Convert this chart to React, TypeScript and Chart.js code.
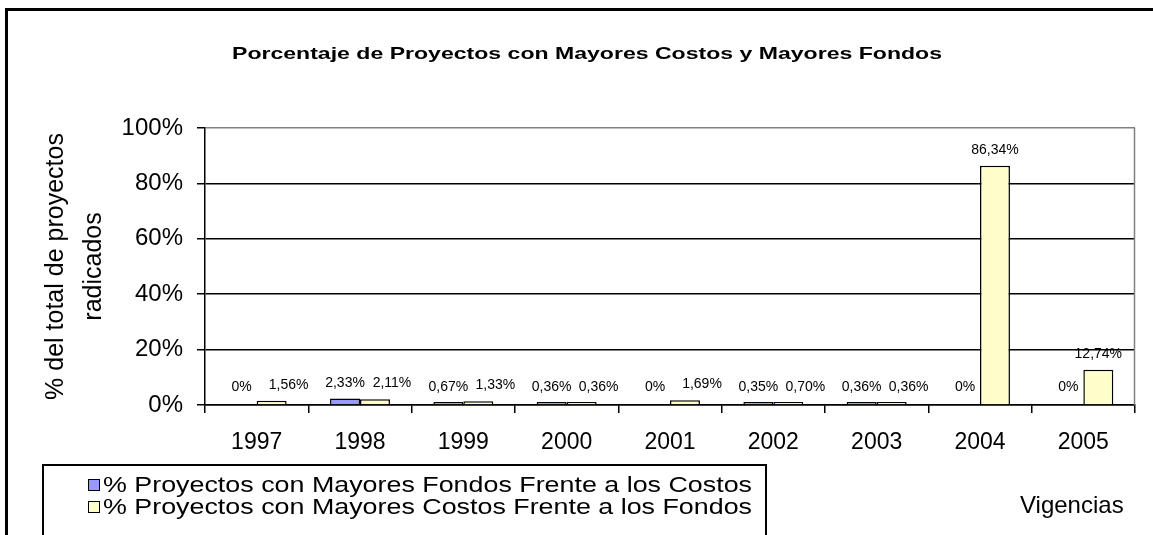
import React, { useEffect, useRef } from 'react';
import { Chart, registerables } from 'chart.js';

Chart.register(...registerables);

const categories = ['1997', '1998', '1999', '2000', '2001', '2002', '2003', '2004', '2005'];
const fondosValues = [0, 2.33, 0.67, 0.36, 0, 0.35, 0.36, 0, 0];
const costosValues = [1.56, 2.11, 1.33, 0.36, 1.69, 0.7, 0.36, 86.34, 12.74];
const yTickValues = [0, 20, 40, 60, 80, 100];
const seriesNames = [
  '% Proyectos con Mayores Fondos Frente a los Costos',
  '% Proyectos con Mayores Costos Frente a los Fondos',
];
const seriesColors = ['#9999FF', '#FFFFCC'];
const chartTitle = 'Porcentaje de Proyectos con Mayores Costos y Mayores Fondos';
const yAxisTitle = ['% del total de proyectos', 'radicados'];
const xAxisTitle = 'Vigencias';

const seriesValues = [fondosValues, costosValues];

const FONT = '"Liberation Sans", Arial, Helvetica, sans-serif';

function fmt(v: number): string {
  if (v === 0) return '0%';
  return v.toFixed(2).replace('.', ',') + '%';
}

const decorPlugin = {
  id: 'decor',
  beforeDraw(chart: any) {
    const ctx = chart.ctx;
    ctx.save();
    ctx.fillStyle = '#ffffff';
    ctx.fillRect(0, 0, chart.width, chart.height);
    // outer frame (left and top)
    ctx.fillStyle = '#000';
    ctx.fillRect(5, 8, chart.width - 5, 3);
    ctx.fillRect(5, 8, 3, chart.height - 8);
    ctx.restore();
  },
  afterDatasetsDraw(chart: any) {
    const ctx = chart.ctx;
    const area = chart.chartArea;
    const yScale = chart.scales.y;
    ctx.save();
    // gray right edge of plot area
    ctx.strokeStyle = '#808080';
    ctx.lineWidth = 1.5;
    ctx.beginPath();
    ctx.moveTo(area.right - 0.5, area.top);
    ctx.lineTo(area.right - 0.5, area.bottom);
    ctx.stroke();

    // data labels
    ctx.font = `14px ${FONT}`;
    ctx.fillStyle = '#000';
    ctx.textAlign = 'center';
    ctx.textBaseline = 'alphabetic';
    seriesValues.forEach((vals, di) => {
      const meta = chart.getDatasetMeta(di);
      meta.data.forEach((bar: any, i: number) => {
        const v = vals[i];
        const dx = di === 1 && v < 5 ? 17 : 0;
        const top = Math.min(yScale.getPixelForValue(v), yScale.getPixelForValue(0) - 2);
        ctx.fillText(fmt(v), bar.x + dx, top - 12);
      });
    });
    ctx.restore();
  },
  afterDraw(chart: any) {
    const ctx = chart.ctx;
    ctx.save();
    ctx.fillStyle = '#000';
    ctx.textAlign = 'left';
    ctx.textBaseline = 'alphabetic';

    // title (wide face)
    ctx.font = `bold 16.5px ${FONT}`;
    const tNat = ctx.measureText(chartTitle).width;
    ctx.save();
    ctx.translate(232, 59);
    ctx.scale(710 / tNat, 1);
    ctx.fillText(chartTitle, 0, 0);
    ctx.restore();

    // legend box
    ctx.strokeStyle = '#000';
    ctx.lineWidth = 2;
    ctx.strokeRect(43, 465, 723, 90);
    ctx.font = `22px ${FONT}`;
    const lNat = ctx.measureText(seriesNames[0]).width;
    const lScale = 649 / lNat;
    const baselines = [492, 514];
    seriesNames.forEach((name, i) => {
      const b = baselines[i];
      ctx.fillStyle = seriesColors[i];
      ctx.fillRect(88, b - 13, 12, 12);
      ctx.strokeStyle = '#000';
      ctx.lineWidth = 1;
      ctx.strokeRect(88.5, b - 12.5, 11, 11);
      ctx.fillStyle = '#000';
      ctx.save();
      ctx.translate(103, b);
      ctx.scale(lScale, 1);
      ctx.fillText(name, 0, 0);
      ctx.restore();
    });

    // x axis title
    ctx.font = `24px ${FONT}`;
    ctx.fillText(xAxisTitle, 1020, 513);
    ctx.restore();
  },
};

export default function App() {
  const canvasRef = useRef<HTMLCanvasElement | null>(null);

  useEffect(() => {
    if (!canvasRef.current) return;
    const chart = new Chart(canvasRef.current, {
      type: 'bar',
      data: {
        labels: categories,
        datasets: seriesValues.map((vals, i) => ({
          label: seriesNames[i],
          data: vals.map((v) => (v === 0 ? null : v)),
          backgroundColor: seriesColors[i],
          borderColor: '#000',
          borderWidth: 1.5,
          minBarLength: 3,
          categoryPercentage: 0.58,
          barPercentage: 1,
        })),
      },
      options: {
        responsive: false,
        animation: false,
        layout: { padding: { top: 128, left: 0, right: 18, bottom: 0 } },
        plugins: {
          legend: { display: false },
          title: { display: false },
          tooltip: { enabled: false },
        },
        scales: {
          x: {
            offset: true,
            grid: {
              display: true,
              offset: true,
              drawOnChartArea: false,
              drawTicks: true,
              tickLength: 8,
              color: '#000',
              lineWidth: 1.5,
            },
            border: { color: '#000', width: 1.5 },
            ticks: {
              autoSkip: false,
              maxRotation: 0,
              padding: 16,
              color: '#000',
              font: { family: FONT, size: 23 },
            },
            afterFit: (scale: any) => {
              scale.height = 130;
            },
          },
          y: {
            min: 0,
            max: 100,
            afterBuildTicks: (scale: any) => {
              scale.ticks = yTickValues.map((v) => ({ value: v }));
            },
            ticks: {
              callback: (v: any) => `${v}%`,
              padding: 14,
              color: '#000',
              font: { family: FONT, size: 24 },
            },
            grid: {
              color: (c: any) => (c.tick && c.tick.value === 100 ? '#808080' : '#000'),
              tickColor: '#000',
              lineWidth: 1.5,
              tickLength: 8,
            },
            border: { color: '#000', width: 1.5 },
            title: {
              display: true,
              text: yAxisTitle,
              color: '#000',
              font: { family: FONT, size: 25, lineHeight: 1.52 },
              padding: { top: 37, bottom: 0 },
            },
            afterFit: (scale: any) => {
              scale.width = 205;
            },
          },
        },
      },
      plugins: [decorPlugin],
    });
    return () => chart.destroy();
  }, []);

  return (
    <div style={{ position: 'absolute', left: 0, top: 0, width: 1153, height: 535, overflow: 'hidden' }}>
      <canvas ref={canvasRef} width={1153} height={535} style={{ display: 'block' }} />
    </div>
  );
}
